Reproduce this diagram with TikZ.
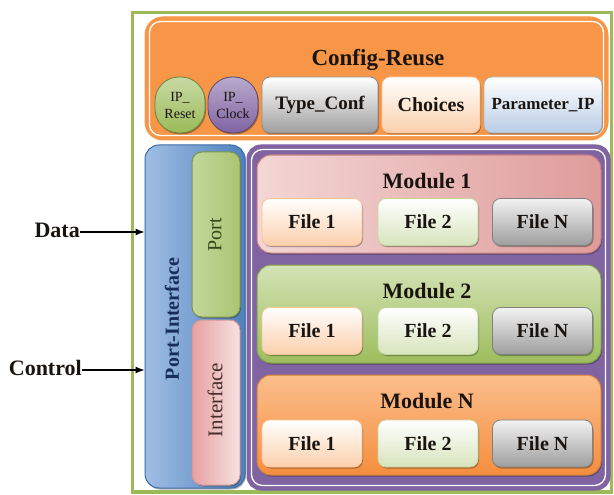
\documentclass[tikz,border=0pt]{standalone}
\usepackage{fontspec}
\setmainfont{Liberation Serif}
\usetikzlibrary{arrows.meta,shadows,fit}

\definecolor{frameGreen}{HTML}{9BBB59}
\definecolor{cfgOrange}{HTML}{F79646}
\definecolor{modPurple}{HTML}{8064A2}
\definecolor{txtDark}{HTML}{1A1410}
\definecolor{paleBlue}{HTML}{B9CDE5}
\definecolor{blueEdge}{HTML}{3C6AA6}
\definecolor{blueLight}{HTML}{A0BEE4}
\definecolor{blueDeep}{HTML}{4F81BD}
\definecolor{blueText}{HTML}{172D5A}
\definecolor{portText}{HTML}{324619}
\definecolor{pinkEdge}{HTML}{D29696}
\definecolor{pinkLeft}{HTML}{E8A0A0}
\definecolor{pinkRight}{HTML}{F6E2E2}
\definecolor{ifText}{HTML}{462D2D}
\definecolor{modAEdge}{HTML}{C88280}
\definecolor{modALight}{HTML}{F3D6D5}
\definecolor{modADark}{HTML}{DE9C9A}
\definecolor{modBLight}{HTML}{D4E3B6}
\definecolor{modBDark}{HTML}{9DBD5C}
\definecolor{modNLight}{HTML}{FBBE8C}
\definecolor{modNDark}{HTML}{F58E3E}

\tikzset{
  lbl/.style={font=\fontsize{20}{22}\selectfont\bfseries, text=txtDark},
  biglbl/.style={font=\fontsize{22}{24}\selectfont\bfseries, text=txtDark},
  soft/.style={drop shadow={shadow xshift=1pt, shadow yshift=-1.5pt, opacity=0.3, fill=black}},
  panel/.style={draw=#1, line width=1pt, rounded corners=14pt, inner sep=0pt},
  chip/.style={draw=#1, line width=0.8pt, rounded corners=8pt, inner sep=0pt,
               minimum height=47pt, soft, lbl},
  filebox/.style={chip=#1, minimum width=100pt},
  pill/.style={draw=#1, line width=0.8pt, rounded corners=24pt, inner sep=0pt,
               minimum width=50pt, minimum height=56pt, soft, align=center,
               font=\fontsize{14}{17}\selectfont, text=txtDark},
  insetline/.style={draw=white, line width=1.3pt, rounded corners=11pt, inner sep=-5pt},
  sig/.style={-{Latex[length=9pt,width=7pt]}, line width=1.1pt, black},
}

\begin{document}
\begin{tikzpicture}[x=1pt,y=-1pt]
\useasboundingbox (0,0) rectangle (614,495);

% outer frame
\node[draw=frameGreen, line width=3.5pt, inner sep=0pt,
      minimum width=479pt, minimum height=479.5pt] (frame) at (372,252.25) {};

% configuration block
\node[panel=cfgOrange, fill=cfgOrange, rounded corners=18pt,
      minimum width=463pt, minimum height=123pt] (config) at (376.5,78.5) {};
\node[insetline, fit=(config)] (configin) {};
\node[biglbl, font=\fontsize{23}{24}\selectfont\bfseries] (configtitle) at (378,60) {Config-Reuse};

\node[pill=frameGreen!70!black, top color=frameGreen!55, bottom color=frameGreen] (ipreset) at (180,105) {IP\_\\Reset};
\node[pill=modPurple!70!black, top color=modPurple!55, bottom color=modPurple] (ipclock) at (233,105) {IP\_\\Clock};
\node[chip=black!45, top color=white, bottom color=black!38, minimum width=116pt, minimum height=56pt,
      font=\fontsize{19}{20}\selectfont\bfseries] (typeconf) at (320,105) {Type\_Conf};
\node[chip=cfgOrange!60, top color=white, bottom color=cfgOrange!45, minimum width=98pt, minimum height=56pt] (choices) at (431,105) {Choices};
\node[chip=black!30, top color=white, bottom color=paleBlue,
      minimum width=118pt, minimum height=56pt, font=\fontsize{17}{18}\selectfont\bfseries] (paramip) at (543,105) {Parameter\_IP};

% port / interface column
\node[panel=blueEdge, left color=blueLight, right color=blueDeep,
      minimum width=100pt, minimum height=343pt, soft] (portif) at (195,316.5) {};
\node[lbl, rotate=90, text=blueText] (portiftext) at (172,319) {Port-Interface};
\node[panel=frameGreen!80!black, rounded corners=10pt, left color=frameGreen!60, right color=frameGreen!85,
      minimum width=48pt, minimum height=165pt, soft] (port) at (216,234.5) {};
\node[rotate=90, font=\fontsize{20}{22}\selectfont, text=portText] (porttext) at (215,235) {Port};
\node[panel=pinkEdge, rounded corners=10pt, left color=pinkLeft, right color=pinkRight,
      minimum width=48pt, minimum height=165pt, soft] (interface) at (216,402.5) {};
\node[rotate=90, font=\fontsize{21}{22}\selectfont, text=ifText] (interfacetext) at (215,400) {Interface};

% module container
\node[panel=modPurple, fill=modPurple, minimum width=363pt, minimum height=345pt] (modules) at (428.5,317.5) {};
\node[insetline, fit=(modules)] (modulesin) {};

% module 1
\node[panel=modAEdge, left color=modALight, right color=modADark,
      minimum width=344pt, minimum height=98pt, soft] (modA) at (429,204) {};
\node[biglbl] (modAtitle) at (427,181) {Module 1};
\node[filebox=cfgOrange!55, top color=white, bottom color=cfgOrange!45] (fA1) at (312,222) {File 1};
\node[filebox=frameGreen!60, top color=white, bottom color=frameGreen!40] (fA2) at (428,222) {File 2};
\node[filebox=black!50, top color=black!5, bottom color=black!38] (fAN) at (542.5,222) {File N};

% module 2
\node[panel=frameGreen!85!black, top color=modBLight, bottom color=modBDark,
      minimum width=344pt, minimum height=98pt, soft] (modB) at (429,314) {};
\node[biglbl] (modBtitle) at (427,291) {Module 2};
\node[filebox=cfgOrange!55, top color=white, bottom color=cfgOrange!45] (fB1) at (312,331) {File 1};
\node[filebox=frameGreen!60, top color=white, bottom color=frameGreen!40] (fB2) at (428,331) {File 2};
\node[filebox=black!50, top color=black!5, bottom color=black!38] (fBN) at (542.5,331) {File N};

% module N
\node[panel=cfgOrange!85!black, top color=modNLight, bottom color=modNDark,
      minimum width=344pt, minimum height=100pt, soft] (modN) at (429,425) {};
\node[biglbl] (modNtitle) at (427,401) {Module N};
\node[filebox=cfgOrange!55, top color=white, bottom color=cfgOrange!45] (fN1) at (312,443.5) {File 1};
\node[filebox=frameGreen!60, top color=white, bottom color=frameGreen!40] (fN2) at (428,443.5) {File 2};
\node[filebox=black!50, top color=black!5, bottom color=black!38] (fNN) at (542.5,443.5) {File N};

% external signals
\node[biglbl, anchor=base east, inner sep=0pt] (data) at (80,237) {Data};
\coordinate (datatail) at (80,232);
\draw[sig] (datatail) -- (datatail -| portif.west);
\node[biglbl, anchor=base east, inner sep=0pt] (control) at (82,375) {Control};
\coordinate (controltail) at (82,370);
\draw[sig] (controltail) -- (controltail -| portif.west);
\end{tikzpicture}
\end{document}
